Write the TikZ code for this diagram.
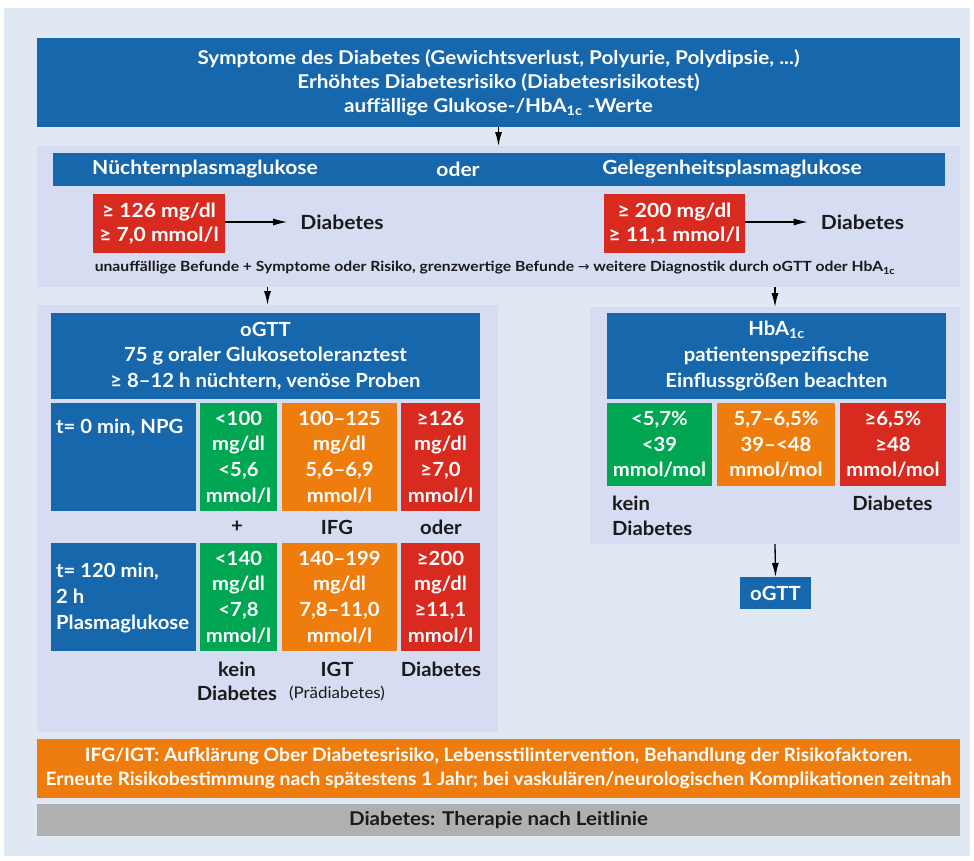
\documentclass[tikz,border=0pt]{standalone}
\usepackage{fontspec}
\setmainfont{Lato}
\newfontfamily\symf{DejaVu Sans}
\usetikzlibrary{arrows.meta,calc}
\definecolor{bgC}{HTML}{DFE8F3}
\definecolor{panelC}{HTML}{D6DCF1}
\definecolor{blueC}{HTML}{1767AD}
\definecolor{redC}{HTML}{D82A1F}
\definecolor{greenC}{HTML}{00A652}
\definecolor{orangeC}{HTML}{EF7D0E}
\definecolor{grayC}{HTML}{B0B0B0}
\definecolor{darkC}{HTML}{1A1A1A}
\newcommand\fstr[1]{\addfontfeature{FakeStretch=#1}}
\tikzset{
  rect/.style n args={2}{minimum width=#1, minimum height=#2, inner sep=0pt, outer sep=0pt, align=center},
  wtext/.style={text=white},
  dtext/.style={text=darkC, inner sep=0pt, align=center},
  fcell/.style={font=\fontsize{19.5}{25.7}\selectfont\bfseries\fstr{1.04}},
  fhead/.style={font=\fontsize{19.5}{24.5}\selectfont\bfseries\fstr{1.08}},
  ftop/.style={font=\fontsize{19}{24}\selectfont\bfseries\fstr{1.09}},
  fbot/.style={font=\fontsize{18.5}{24}\selectfont\bfseries\fstr{1.04}},
  fgray/.style={font=\fontsize{19}{24}\selectfont\bfseries\fstr{1.08}},
  fnote/.style={font=\fontsize{14}{16}\selectfont\bfseries\fstr{1.12}},
  fsmall/.style={font=\fontsize{16}{20}\selectfont\fstr{1.06}},
  harr/.style={-{Latex[length=14pt,width=7pt]}, line width=1.3pt, draw=black},
  varr/.style={-{Latex[length=14pt,width=7pt]}, line width=1.3pt, draw=black},
}
\begin{document}
\begin{tikzpicture}[x=1pt,y=-1pt]
\useasboundingbox (0,0) rectangle (974,860);
\fill[bgC] (4,8) rectangle (970,856);

% top
\node[rect={923pt}{89pt}, fill=blueC, wtext, ftop] (top) at (498.5,82.5)
  {Symptome des Diabetes (Gewichtsverlust, Polyurie, Polydipsie, ...)\\Erhöhtes Diabetesrisiko (Diabetesrisikotest)\\auffällige Glukose-/HbA\textsubscript{1c} -Werte};

% middle panel
\node[rect={923pt}{141pt}, fill=panelC] (mid) at (498.5,216.5) {};
\node[rect={892pt}{33pt}, fill=blueC] (hdr) at (499,169.5) {};
\node[wtext, fhead, inner sep=0pt] (nuech) at (205,169.5) {Nüchternplasmaglukose};
\node[wtext, fhead, inner sep=0pt] (oder) at (458,169.5) {oder};
\node[wtext, fhead, inner sep=0pt] (geleg) at (732,169.5) {Gelegenheitsplasmaglukose};

\node[rect={132pt}{59pt}, fill=redC, wtext, fhead] (ra) at (159,223.5) {≥ 126 mg/dl\\≥ 7,0 mmol/l};
\node[dtext, fhead, inner xsep=13pt] (da) at (342,222) {Diabetes};
\node[rect={141pt}{59pt}, fill=redC, wtext, fhead] (rb) at (674.5,223.5) {≥ 200 mg/dl\\≥ 11,1 mmol/l};
\node[dtext, fhead, inner xsep=13pt] (db) at (862.5,222) {Diabetes};
\draw[harr] (ra.east |- da.west) -- (da.west);
\draw[harr] (rb.east |- db.west) -- (db.west);

\node[dtext, fnote] (note) at (495,268) {unauffällige Befunde + Symptome oder Risiko, grenzwertige Befunde {\symf\mdseries →} weitere Diagnostik durch oGTT oder HbA\textsubscript{1c}};

\draw[varr] (top.south) -- (mid.north);

% left panel
\node[rect={461pt}{427pt}, fill=panelC] (lp) at (267.5,518.5) {};
\node[rect={429pt}{86pt}, fill=blueC, wtext, fcell] (og) at (265.5,356)
  {oGTT\\75 g oraler Glukosetoleranztest\\≥ 8–12 h nüchtern, venöse Proben};

\node[rect={145pt}{108pt}, fill=blueC] (a1) at (123.5,457) {};
\node[wtext, fcell, inner sep=0pt, anchor=west] (t0) at (56,428) {t= 0 min, NPG};
\node[rect={77pt}{108pt}, fill=greenC, wtext, fcell] (g1) at (238.5,457) {<100\\mg/dl\\<5,6\\mmol/l};
\node[rect={115pt}{108pt}, fill=orangeC, wtext, fcell] (o1) at (339.5,457) {100–125\\mg/dl\\5,6–6,9\\mmol/l};
\node[rect={79pt}{108pt}, fill=redC, wtext, fcell] (r1) at (440.5,457) {≥126\\mg/dl\\≥7,0\\mmol/l};

\node[dtext, fcell] (plus) at (237,527) {+};
\node[dtext, fcell] (ifg) at (337,527) {IFG};
\node[dtext, fcell] (oder2) at (441,527) {oder};

\node[rect={145pt}{108pt}, fill=blueC] (a2) at (123.5,597) {};
\node[wtext, fcell, inner sep=0pt, anchor=west, align=left] (t120) at (56,598) {t= 120 min,\\2 h\\Plasmaglukose};
\node[rect={77pt}{108pt}, fill=greenC, wtext, fcell] (g2) at (238.5,597) {<140\\mg/dl\\<7,8\\mmol/l};
\node[rect={115pt}{108pt}, fill=orangeC, wtext, fcell] (o2) at (339.5,597) {140–199\\mg/dl\\7,8–11,0\\mmol/l};
\node[rect={79pt}{108pt}, fill=redC, wtext, fcell] (r2) at (440.5,597) {≥200\\mg/dl\\≥11,1\\mmol/l};

\node[dtext, font=\fontsize{19.5}{24}\selectfont\bfseries\fstr{1.04}] (kd) at (237,681) {kein\\Diabetes};
\node[dtext, fcell] (igt) at (337,669) {IGT};
\node[dtext, fsmall] (pd) at (337,693) {(Prädiabetes)};
\node[dtext, fcell] (dia) at (441,669) {Diabetes};

% right panel
\node[rect={370pt}{237pt}, fill=panelC] (rp) at (775,425.5) {};
\node[rect={339pt}{86pt}, fill=blueC, wtext, fcell] (hb) at (776.5,356)
  {HbA\textsubscript{1c}\\patientenspezifische\\Einflussgrößen beachten};
\node[rect={105pt}{83pt}, fill=greenC, wtext, fcell] (hg) at (659.5,444.5) {<5,7\%\\<39\\mmol/mol};
\node[rect={118pt}{83pt}, fill=orangeC, wtext, fcell] (ho) at (776,444.5) {5,7–6,5\%\\39–<48\\mmol/mol};
\node[rect={106pt}{83pt}, fill=redC, wtext, fcell] (hr) at (893,444.5) {≥6,5\%\\≥48\\mmol/mol};
\node[dtext, font=\fontsize{19.5}{25}\selectfont\bfseries\fstr{1.04}, anchor=west, align=left] (hkd) at (612,516) {kein\\Diabetes};
\node[dtext, fcell] (hdia) at (892.5,503) {Diabetes};

\node[rect={71pt}{32pt}, fill=blueC, wtext, fcell] (ob) at (775.5,593) {oGTT};
\draw[varr] (rp.south) -- (ob.north);

\draw[varr] (mid.south -| lp.north) -- (lp.north);
\draw[varr] (mid.south -| rp.north) -- (rp.north);

% bottom
\node[rect={923pt}{59pt}, fill=orangeC, wtext, fbot] (ob1) at (498.5,768.5)
  {IFG/IGT: Aufklärung Ober Diabetesrisiko, Lebensstilintervention, Behandlung der Risikofaktoren.\\Erneute Risikobestimmung nach spätestens 1 Jahr; bei vaskulären/neurologischen Komplikationen zeitnah};
\node[rect={923pt}{32pt}, fill=grayC, text=darkC, fgray] (gb) at (498.5,820) {Diabetes: Therapie nach Leitlinie};
\end{tikzpicture}
\end{document}
